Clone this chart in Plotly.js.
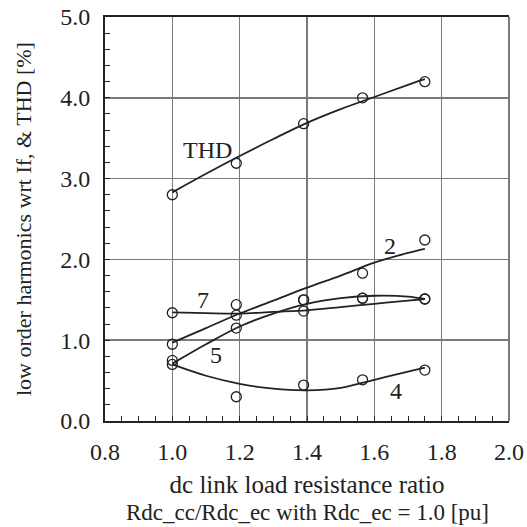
<!DOCTYPE html>
<html>
<head>
<meta charset="utf-8">
<script src="https://cdn.plot.ly/plotly-3.0.1.min.js"></script>
<style>html,body{margin:0;padding:0;background:#fff}#chart{width:527px;height:527px}</style>
</head>
<body>
<div id="chart"></div>
<script>
// measured points (x = dc link load resistance ratio)
const xPts = [1.0, 1.19, 1.39, 1.565, 1.75];
const thdPts = [2.80, 3.19, 3.68, 4.00, 4.20];
const h2Pts = [0.95, 1.31, 1.50, 1.83, 2.24];
const h7Pts = [1.34, 1.44, 1.36, 1.52, 1.51];
const h5Pts = [0.75, 1.15, 1.50, 1.52, 1.51];
const h4Pts = [0.70, 0.30, 0.445, 0.51, 0.63];

// fitted curves
const xFit = [1.0, 1.1, 1.2, 1.3, 1.4, 1.5, 1.6, 1.7, 1.75];
const thdFit = [2.83, 3.06, 3.28, 3.49, 3.69, 3.86, 4.01, 4.16, 4.23];
const h2Fit = [0.97, 1.15, 1.33, 1.49, 1.65, 1.80, 1.96, 2.08, 2.13];
const h7Fit = [1.345, 1.335, 1.33, 1.35, 1.37, 1.41, 1.45, 1.49, 1.51];
const h5Fit = [0.71, 0.95, 1.17, 1.33, 1.45, 1.52, 1.55, 1.54, 1.51];
const h4Fit = [0.70, 0.56, 0.46, 0.40, 0.38, 0.41, 0.51, 0.61, 0.66];

// curve labels
const labelText = ["THD", "2", "7", "5", "4"];
const labelX = [1.103, 1.647, 1.091, 1.13, 1.665];
const labelY = [3.35, 2.17, 1.50, 0.82, 0.37];

const ink = '#222';
const FONT = 'Liberation Serif, Times New Roman, serif';

const ptSets = [thdPts, h2Pts, h7Pts, h5Pts, h4Pts];
const fitSets = [thdFit, h2Fit, h7Fit, h5Fit, h4Fit];
const traces = [];
fitSets.forEach(f => traces.push({
  x: xFit, y: f, mode: 'lines', type: 'scatter',
  line: {color: ink, width: 1.8, shape: 'spline', smoothing: 1},
  hoverinfo: 'skip', showlegend: false
}));
ptSets.forEach(p => traces.push({
  x: xPts, y: p, mode: 'markers', type: 'scatter',
  marker: {symbol: 'circle-open', size: 10, color: ink, line: {color: ink, width: 1.3}},
  showlegend: false
}));

const annotations = labelText.map((t, i) => ({
  x: labelX[i], y: labelY[i], xref: 'x', yref: 'y', text: t, showarrow: false,
  font: {family: FONT, size: 24, color: ink}
}));
annotations.push({
  xref: 'paper', yref: 'paper', x: 0.5, y: -0.226, yanchor: 'middle', xanchor: 'center',
  text: 'Rdc_cc/Rdc_ec with Rdc_ec = 1.0 [pu]', showarrow: false,
  font: {family: FONT, size: 23, color: ink}
});
annotations.push({
  xref: 'paper', yref: 'paper', x: 0, y: 0.5, xanchor: 'center', yanchor: 'middle',
  xshift: -82, textangle: -90, showarrow: false,
  text: 'low order harmonics wrt If, & THD [%]',
  font: {family: FONT, size: 22, color: ink}
});

const layout = {
  width: 527, height: 527,
  margin: {l: 105, r: 18, t: 17, b: 106},
  paper_bgcolor: '#fff', plot_bgcolor: '#fff',
  font: {family: FONT, size: 24, color: ink},
  showlegend: false,
  xaxis: {
    range: [0.8, 2.0], dtick: 0.2, tick0: 0.8, tickformat: '.1f',
    showgrid: true, gridcolor: '#7a7a7a', gridwidth: 1.5,
    showline: true, linecolor: ink, linewidth: 2, mirror: true,
    ticks: 'inside', ticklen: 5, tickcolor: ink, tickwidth: 1,
    minor: {dtick: 0.05, ticks: 'inside', ticklen: 5, tickcolor: ink, tickwidth: 1, showgrid: false},
    zeroline: false, ticklabelstandoff: 8,
    tickfont: {family: FONT, size: 24, color: ink},
    title: {text: 'dc link load resistance ratio', standoff: 12, font: {family: FONT, size: 25, color: ink}}
  },
  yaxis: {
    range: [0, 5.0], dtick: 1.0, tick0: 0, tickformat: '.1f',
    showgrid: true, gridcolor: '#7a7a7a', gridwidth: 1.5,
    showline: true, linecolor: ink, linewidth: 2, mirror: false,
    ticks: 'inside', ticklen: 5, tickcolor: ink, tickwidth: 1,
    minor: {dtick: 0.2, ticks: 'inside', ticklen: 5, tickcolor: ink, tickwidth: 1, showgrid: false},
    zeroline: false, ticklabelstandoff: 8,
    tickfont: {family: FONT, size: 24, color: ink}
  },
  shapes: [{type: 'line', xref: 'paper', yref: 'paper', x0: 1, x1: 1, y0: 0, y1: 1,
            line: {color: '#7a7a7a', width: 2}}],
  annotations: annotations
};

Plotly.newPlot('chart', traces, layout, {staticPlot: true, displayModeBar: false});
</script>
</body>
</html>
